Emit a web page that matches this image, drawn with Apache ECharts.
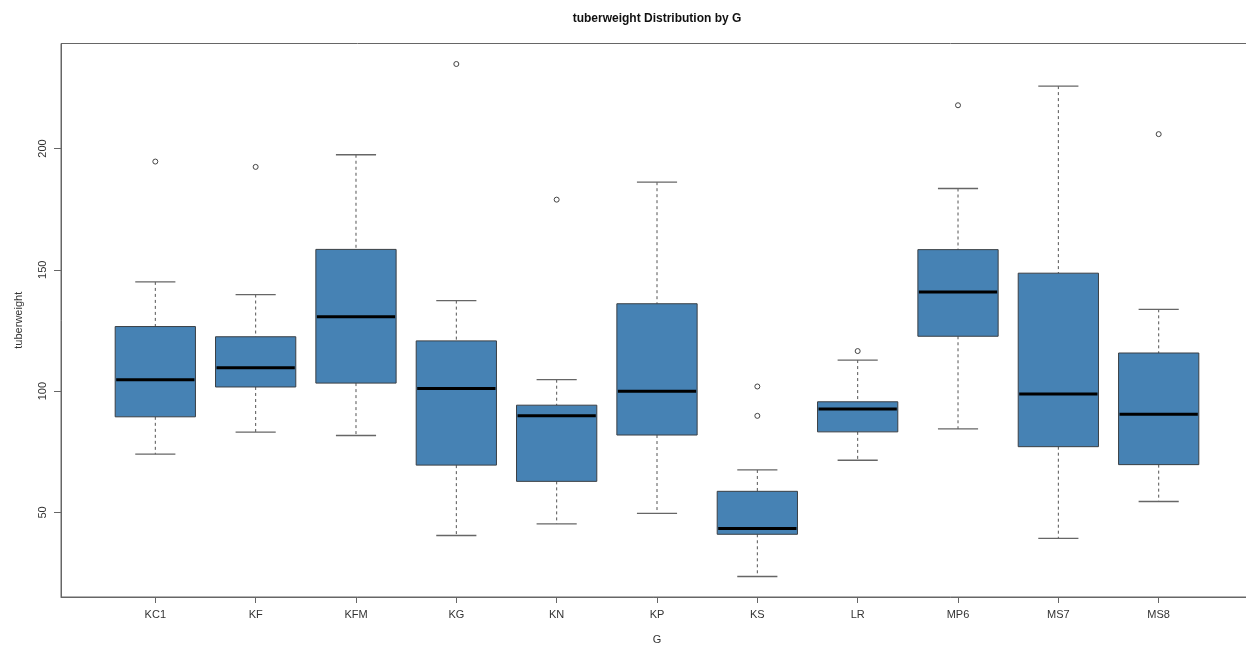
<!DOCTYPE html>
<html>
<head>
<meta charset="utf-8">
<script src="https://cdn.jsdelivr.net/npm/echarts@6/dist/echarts.min.js"></script>
<style>
html,body{margin:0;padding:0;background:#fff;}
#chart{width:1246px;height:645px;}
</style>
</head>
<body>
<div id="chart"></div>
<script>
// ---- data ----
const categories = ['KC1','KF','KFM','KG','KN','KP','KS','LR','MP6','MS7','MS8'];
const whiskerLow  = [74.0, 83.1, 81.7, 40.5, 45.3, 49.6, 23.6, 71.5, 84.4, 39.3, 54.5];
const quartile1   = [89.4, 101.7, 103.3, 69.5, 62.8, 81.9, 41.0, 83.2, 122.6, 77.1, 69.7];
const medians     = [104.7, 109.6, 130.6, 101.1, 89.8, 99.9, 43.4, 92.6, 140.8, 98.8, 90.5];
const quartile3   = [126.6, 122.4, 158.4, 120.7, 94.2, 136.0, 58.7, 95.6, 158.3, 148.6, 115.7];
const whiskerHigh = [145.0, 139.8, 197.4, 137.3, 104.7, 186.1, 67.5, 112.8, 183.5, 225.7, 133.7];
// outliers: [category name, value]
const outliers = [
  ['KC1', 194.6], ['KF', 192.4], ['KG', 234.8], ['KN', 178.9],
  ['KS', 101.9], ['KS', 89.8], ['LR', 116.5], ['MP6', 217.8], ['MS8', 205.9]
];
const yTicks = [50, 100, 150, 200];

// ---- chart ----
const positions = categories.map((c, i) => i + 1);
const boxData = categories.map((c, i) => [positions[i], whiskerLow[i], quartile1[i], medians[i], quartile3[i], whiskerHigh[i]]);
const outlierData = outliers.map(o => [categories.indexOf(o[0]) + 1, o[1]]);

const BOX_HALF = 0.4, CAP_HALF = 0.2;
const FONT = '"Liberation Sans", Arial, sans-serif';

function renderBox(params, api) {
  const x = api.value(0);
  const lo = api.value(1), q1 = api.value(2), med = api.value(3), q3 = api.value(4), hi = api.value(5);
  const tl = api.coord([x - BOX_HALF, q3]);
  const br = api.coord([x + BOX_HALF, q1]);
  const cHi = api.coord([x, hi]), cQ3 = api.coord([x, q3]), cQ1 = api.coord([x, q1]), cLo = api.coord([x, lo]);
  const capL = api.coord([x - CAP_HALF, hi])[0], capR = api.coord([x + CAP_HALF, hi])[0];
  const mL = api.coord([x - BOX_HALF, med]), mR = api.coord([x + BOX_HALF, med]);
  const dashStyle = {stroke: '#555', lineWidth: 1, lineDash: [3, 3]};
  const capStyle = {stroke: '#666', lineWidth: 1.3};
  return {
    type: 'group',
    children: [
      {type: 'line', shape: {x1: cHi[0], y1: cHi[1], x2: cQ3[0], y2: cQ3[1]}, style: dashStyle},
      {type: 'line', shape: {x1: cQ1[0], y1: cQ1[1], x2: cLo[0], y2: cLo[1]}, style: dashStyle},
      {type: 'line', shape: {x1: capL, y1: cHi[1], x2: capR, y2: cHi[1]}, style: capStyle},
      {type: 'line', shape: {x1: capL, y1: cLo[1], x2: capR, y2: cLo[1]}, style: capStyle},
      {type: 'rect', shape: {x: tl[0], y: tl[1], width: br[0] - tl[0], height: br[1] - tl[1]},
        style: {fill: '#4682B4', stroke: '#3a3f44', lineWidth: 1}},
      {type: 'line', shape: {x1: mL[0] + 1, y1: mL[1], x2: mR[0] - 1, y2: mR[1]}, style: {stroke: '#000', lineWidth: 3}}
    ]
  };
}

const chart = echarts.init(document.getElementById('chart'), null, {renderer: 'canvas'});
chart.setOption({
  animation: false,
  backgroundColor: '#fff',
  title: {
    text: 'tuberweight Distribution by G',
    left: 657, top: 13, textAlign: 'center', padding: 0,
    textStyle: {fontFamily: FONT, fontSize: 12, fontWeight: 'bold', color: '#111'}
  },
  grid: {left: 61, top: 43.5, width: 1192, bottom: 48, show: true, borderColor: '#666', borderWidth: 1,
    backgroundColor: 'transparent', containLabel: false, outerBoundsMode: 'none'},
  xAxis: {
    type: 'value', min: 0.06, max: 11.94,
    name: 'G', nameLocation: 'middle', nameGap: 37,
    nameTextStyle: {fontFamily: FONT, fontSize: 11, color: '#333'},
    axisLine: {show: true, onZero: false, lineStyle: {color: '#666'}},
    axisTick: {show: true, length: 6, customValues: positions, lineStyle: {color: '#666'}},
    axisLabel: {customValues: positions, margin: 12, fontFamily: FONT, fontSize: 11, color: '#333',
      formatter: v => categories[Math.round(v) - 1] || ''},
    splitLine: {show: false}
  },
  yAxis: {
    type: 'value', min: 15.15, max: 243.25,
    name: 'tuberweight', nameLocation: 'middle', nameGap: 37, nameRotate: 90,
    nameTextStyle: {fontFamily: FONT, fontSize: 11, color: '#333'},
    axisLine: {show: true, lineStyle: {color: '#666'}},
    axisTick: {show: true, length: 7, customValues: yTicks, lineStyle: {color: '#666'}},
    axisLabel: {customValues: yTicks, rotate: 90, margin: 13, fontFamily: FONT, fontSize: 11, color: '#333'},
    splitLine: {show: false}
  },
  series: [
    {
      type: 'custom', name: 'box',
      renderItem: renderBox,
      encode: {x: 0, y: [1, 2, 3, 4, 5]},
      data: boxData,
      clip: false
    },
    {
      type: 'scatter', name: 'outliers',
      data: outlierData,
      symbol: 'circle', symbolSize: 5,
      itemStyle: {color: '#fff', borderColor: '#444', borderWidth: 1, opacity: 1}
    }
  ]
});
</script>
</body>
</html>
